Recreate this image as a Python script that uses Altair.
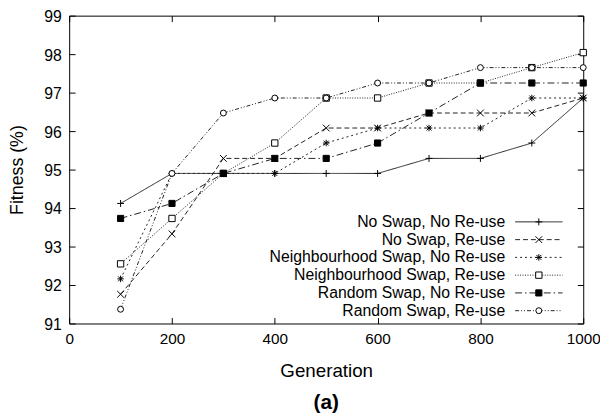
import altair as alt
import pandas as pd

generations = [100, 200, 300, 400, 500, 600, 700, 800, 900, 1000]
series_names = [
    "No Swap, No Re-use",
    "No Swap, Re-use",
    "Neighbourhood Swap, No Re-use",
    "Neighbourhood Swap, Re-use",
    "Random Swap, No Re-use",
    "Random Swap, Re-use",
]
no_swap_no_reuse = [94.12, 94.90, 94.90, 94.90, 94.90, 94.90, 95.29, 95.29, 95.69, 96.86]
no_swap_reuse = [91.76, 93.33, 95.29, 95.29, 96.08, 96.08, 96.47, 96.47, 96.47, 96.86]
neigh_swap_no_reuse = [92.16, 94.90, 94.90, 94.90, 95.69, 96.08, 96.08, 96.08, 96.86, 96.86]
neigh_swap_reuse = [92.55, 93.73, 94.90, 95.69, 96.86, 96.86, 97.25, 97.25, 97.65, 98.04]
random_swap_no_reuse = [93.73, 94.12, 94.90, 95.29, 95.29, 95.69, 96.47, 97.25, 97.25, 97.25]
random_swap_reuse = [91.37, 94.90, 96.47, 96.86, 96.86, 97.25, 97.25, 97.65, 97.65, 97.65]

all_values = [no_swap_no_reuse, no_swap_reuse, neigh_swap_no_reuse,
              neigh_swap_reuse, random_swap_no_reuse, random_swap_reuse]

rows = []
for name, vals in zip(series_names, all_values):
    for g, v in zip(generations, vals):
        rows.append({"series": name, "gen": g, "fitness": v})
df = pd.DataFrame(rows)
legend_df = pd.DataFrame({"series": series_names})

FONT = "Liberation Sans"

shape_scale = alt.Scale(
    domain=series_names,
    range=[
        "M-1,0L1,0M0,-1L0,1",
        "M-1,-1L1,1M-1,1L1,-1",
        "M-1,0L1,0M0,-1L0,1M-0.75,-0.75L0.75,0.75M-0.75,0.75L0.75,-0.75",
        "square",
        "square",
        "circle",
    ],
)
fill_scale = alt.Scale(
    domain=series_names,
    range=["transparent", "transparent", "transparent", "white", "black", "white"],
)
dash_scale = alt.Scale(
    domain=series_names,
    range=[[1, 0], [5, 3], [2, 3], [1, 1.5], [7, 3, 1.5, 3], [4, 2, 1, 2, 1, 2]],
)
size_scale = alt.Scale(domain=series_names, range=[49, 36, 49, 42, 42, 36])

x_scale = alt.Scale(domain=[0, 1000], nice=False)
y_scale = alt.Scale(domain=[91, 99], nice=False, zero=False)
xticks = [0, 200, 400, 600, 800, 1000]
yticks = [91, 92, 93, 94, 95, 96, 97, 98, 99]

lines = alt.Chart(df).mark_line(stroke="#222", strokeWidth=1).encode(
    x=alt.X("gen:Q", scale=x_scale,
            axis=alt.Axis(orient="bottom", offset=-6, tickSize=6, domain=False,
                          values=xticks, format="d", labelPadding=8, labelFlush=False,
                          labelOverlap=False, grid=False, title="Generation",
                          titleFontSize=19, titleFontWeight="normal",
                          titlePadding=15, labelFontSize=15.5, tickColor="black",
                          labelColor="black", titleColor="black")),
    y=alt.Y("fitness:Q", scale=y_scale,
            axis=alt.Axis(orient="left", offset=-6, tickSize=6, domain=False,
                          values=yticks, format="d", labelPadding=8, labelFlush=False,
                          labelOffset=1,
                          labelOverlap=False, grid=False, title="Fitness (%)",
                          titleFontSize=18, titleFontWeight="normal",
                          titlePadding=18, labelFontSize=16, tickColor="black",
                          labelColor="black", titleColor="black")),
    detail="series:N",
    strokeDash=alt.StrokeDash("series:N", scale=dash_scale, legend=None),
)

points = alt.Chart(df).mark_point(stroke="black", strokeWidth=1, opacity=1).encode(
    x=alt.X("gen:Q", scale=x_scale,
            axis=alt.Axis(orient="top", offset=-6, tickSize=6, domain=False,
                          values=xticks, labels=False, grid=False, title=None,
                          tickColor="black")),
    y=alt.Y("fitness:Q", scale=y_scale,
            axis=alt.Axis(orient="right", offset=-6, tickSize=6, domain=False,
                          values=yticks, labels=False, grid=False, title=None,
                          tickColor="black")),
    shape=alt.Shape("series:N", scale=shape_scale, legend=None),
    fill=alt.Fill("series:N", scale=fill_scale, legend=None),
    size=alt.Size("series:N", scale=size_scale, legend=None),
)

leg_y = alt.Y("series:N", sort=series_names,
              scale=alt.Scale(type="point", domain=series_names, range=[209, 299], padding=0),
              axis=None)

leg_text = alt.Chart(legend_df).mark_text(align="right", baseline="middle",
                                          font=FONT, fontSize=16, color="black").encode(
    x=alt.value(442), y=leg_y, text="series:N")
leg_rule = alt.Chart(legend_df).mark_rule(stroke="#222", strokeWidth=1).encode(
    x=alt.value(452), x2=alt.value(500), y=leg_y,
    strokeDash=alt.StrokeDash("series:N", scale=dash_scale, legend=None))
leg_pts = alt.Chart(legend_df).mark_point(stroke="black", strokeWidth=1, opacity=1).encode(
    x=alt.value(476), y=leg_y,
    shape=alt.Shape("series:N", scale=shape_scale, legend=None),
    fill=alt.Fill("series:N", scale=fill_scale, legend=None),
    size=alt.Size("series:N", scale=size_scale, legend=None))

legend_layer = alt.layer(leg_text, leg_rule, leg_pts)

chart = alt.layer(lines, points, legend_layer).resolve_scale(
    y="independent"
).resolve_axis(
    x="independent", y="independent"
).properties(
    width=521,
    height=312,
    autosize=alt.AutoSizeParams(type="none"),
    padding={"left": 62, "top": 5, "right": 17, "bottom": 92},
    title=alt.TitleParams("(a)", orient="bottom", fontSize=21, fontWeight="bold",
                          font=FONT, color="black", offset=12),
).configure_axis(
    labelFont=FONT, titleFont=FONT
).configure_view(
    stroke="black", strokeWidth=1
)

chart.save("out.html", embed_options={"renderer": "svg", "actions": False})
